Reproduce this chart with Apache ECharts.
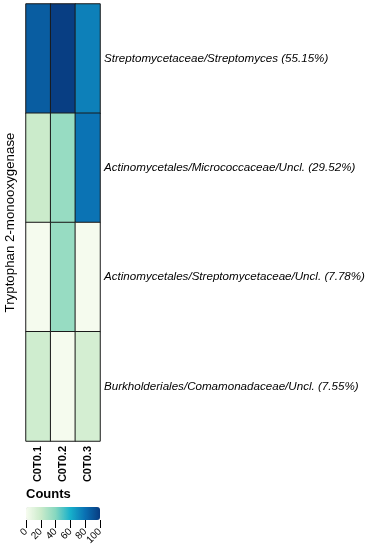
<!DOCTYPE html>
<html>
<head>
<meta charset="utf-8">
<script src="https://cdn.jsdelivr.net/npm/echarts@6/dist/echarts.min.js"></script>
<style>html,body{margin:0;padding:0;background:#fff}#c{width:371px;height:550px}</style>
</head>
<body>
<div id="c"></div>
<script>
const samples = ['C0T0.1', 'C0T0.2', 'C0T0.3'];
const taxa = [
  'Streptomycetaceae/Streptomyces (55.15%)',
  'Actinomycetales/Micrococcaceae/Uncl. (29.52%)',
  'Actinomycetales/Streptomycetaceae/Uncl. (7.78%)',
  'Burkholderiales/Comamonadaceae/Uncl. (7.55%)'
];
const streptomyces = [87, 99, 75];
const micrococcaceae = [20, 35, 79];
const streptomycetaceaeUncl = [1, 35, 1];
const comamonadaceae = [18, 1, 16];
const legendTicks = [0, 20, 40, 60, 80, 100];
const palette = ['#f7fcf0', '#cbebcb', '#86d7bf', '#17b0cb', '#0a70b3', '#083b80'];

const rows = [streptomyces, micrococcaceae, streptomycetaceaeUncl, comamonadaceae];
const data = [];
rows.forEach((r, yi) => r.forEach((v, xi) => data.push([xi, yi, v])));

const chart = echarts.init(document.getElementById('c'));
const font = 'Liberation Sans, Arial, sans-serif';
chart.setOption({
  animation: false,
  textStyle: { fontFamily: font },
  grid: [
    { left: 26, top: 4, width: 74, height: 437 },
    { left: 26, top: 507, width: 74, height: 13 }
  ],
  xAxis: [
    { gridIndex: 0, type: 'category', data: samples, position: 'bottom',
      axisLine: { show: false }, axisTick: { show: false },
      axisLabel: { rotate: 90, fontWeight: 'bold', fontSize: 11, color: '#000', margin: 5, fontFamily: font } },
    { gridIndex: 1, type: 'value', min: 0, max: 100, interval: 20, position: 'bottom',
      axisLine: { show: false }, splitLine: { show: false },
      axisTick: { show: true, length: 8, lineStyle: { color: '#000', width: 1 } },
      axisLabel: { rotate: 45, fontSize: 10, color: '#000', margin: 10, fontFamily: font,
                   formatter: v => legendTicks.includes(v) ? String(v) : '' } },
    { gridIndex: 1, type: 'value', min: 0, max: 100, interval: 20, position: 'top',
      axisLine: { show: false }, splitLine: { show: false }, axisLabel: { show: false },
      axisTick: { show: true, inside: true, length: 3, lineStyle: { color: '#fff', width: 1 } } }
  ],
  yAxis: [
    { gridIndex: 0, type: 'category', data: taxa, inverse: true, position: 'right',
      axisLine: { show: false }, axisTick: { show: false },
      axisLabel: { fontStyle: 'italic', fontSize: 11.6, color: '#000', margin: 4, fontFamily: font } },
    { gridIndex: 0, type: 'category', data: taxa, inverse: true, position: 'left',
      axisLine: { show: false }, axisTick: { show: false }, axisLabel: { show: false },
      name: 'Tryptophan 2-monooxygenase', nameLocation: 'middle', nameRotate: 90, nameGap: 9,
      nameTextStyle: { fontSize: 13.3, color: '#000', fontFamily: font } },
    { gridIndex: 1, type: 'value', min: 0, max: 1, show: false }
  ],
  visualMap: {
    type: 'continuous', min: 0, max: 100, orient: 'horizontal',
    left: 26, top: 507, itemWidth: 13, itemHeight: 74, padding: 0,
    calculable: false, showLabel: false, text: null, seriesIndex: 0,
    inRange: { color: palette }, hoverLink: false
  },
  title: { text: 'Counts', left: 26, top: 488, padding: 0,
           textStyle: { fontSize: 13, fontWeight: 'bold', color: '#000', fontFamily: font } },
  series: [
    { type: 'heatmap', xAxisIndex: 0, yAxisIndex: 0, data: data,
      itemStyle: { borderColor: '#1a1a1a', borderWidth: 1 },
      emphasis: { disabled: true }, label: { show: false } },
    { type: 'scatter', xAxisIndex: 1, yAxisIndex: 2, data: [], silent: true }
  ]
});
</script>
</body>
</html>
